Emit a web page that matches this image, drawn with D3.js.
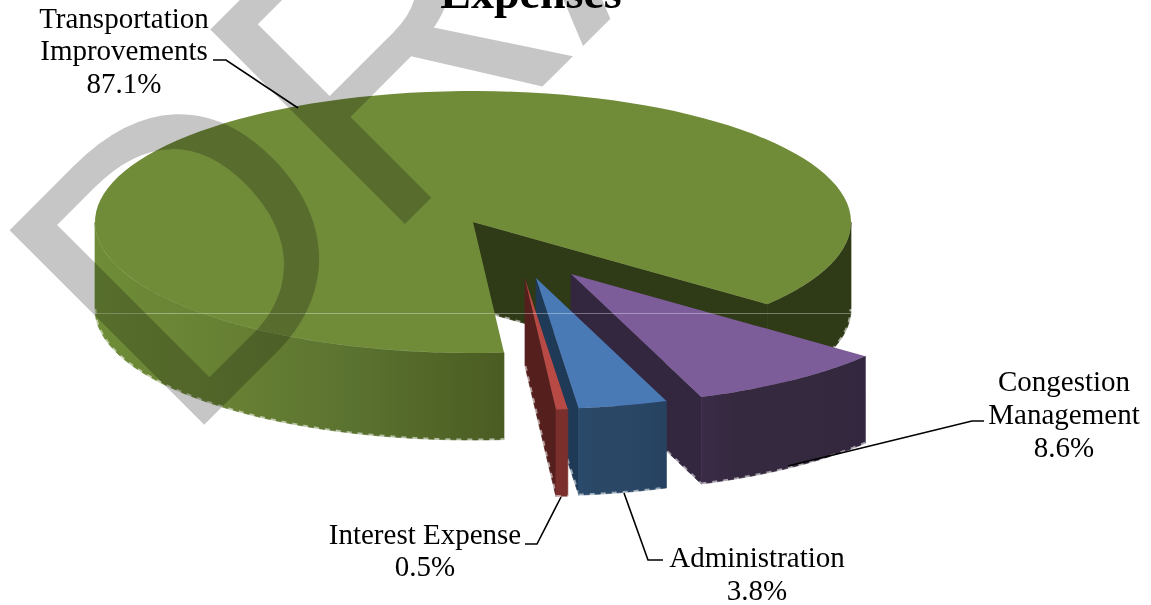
<!DOCTYPE html>
<html>
<head>
<meta charset="utf-8">
<script src="https://cdn.jsdelivr.net/npm/d3@7/dist/d3.min.js"></script>
<style>
  html, body { margin: 0; padding: 0; background: #fff; overflow: hidden; }
  svg { display: block; }
  text { font-family: "Liberation Serif", "Times New Roman", serif; fill: #000; }
</style>
</head>
<body>
<svg id="chart" width="1151" height="605"></svg>
<script>
// Expense shares, clockwise from the front of the pie
const categories = ["Transportation Improvements", "Congestion Management", "Administration", "Interest Expense"];
const shares = [87.1, 8.6, 3.8, 0.5];
const shareLabels = ["87.1%", "8.6%", "3.8%", "0.5%"];
const titleText = "Expenses";
const stampText = "DRAFT";

// Colours per slice: top face, cut wall, outer rim stops (left to right)
const topColors = ["#718c39", "#7c5c99", "#4a7ab5", "#b84a45"];
const wallColors = ["#2f3a16", "#33273f", "#1f3a56", "#551f1d"];
const rimStops = [
  ["#6f8d38", "#667f33", "#5b7330", "#4b5c22"],
  ["#3b2b48", "#35293f", "#35293f", "#33273f"],
  ["#2a4a6c", "#2a4766", "#2a4766", "#264260"],
  ["#7a2f2d", "#7a2f2d", "#7a2f2d", "#7a2f2d"]
];

// Pie geometry: tilted disc seen from above
const cx = 473, cy = 222, rx = 378, ry = 131, depth = 87;
const firstAngle = 175.3 * Math.PI / 180;
const pullX = [0, 98, 63, 52];
const pullY = [0, 52, 56, 57];

const svg = d3.select("#chart");
const defs = svg.append("defs");

const slices = d3.pie().sort(null).value(d => d)
  .startAngle(firstAngle).endAngle(firstAngle + 2 * Math.PI)(shares);

const xPos = d3.scaleLinear().domain([-1, 1]).range([-rx, rx]);
const yPos = d3.scaleLinear().domain([-1, 1]).range([-ry, ry]);
const toXY = (a, i, h = 0) => [
  cx + pullX[i] + xPos(Math.sin(a)),
  cy + pullY[i] + yPos(-Math.cos(a)) + h
];
const centre = (i, h = 0) => [cx + pullX[i], cy + pullY[i] + h];
const pathOf = d3.line();
const sweep = (a0, a1) => d3.range(0, 121).map(k => a0 + (a1 - a0) * k / 120);
const PI = Math.PI;

// Rim spans that face the viewer, in the slice's own angular range
function frontSpans(s) {
  const spans = [];
  for (const [lo, hi] of [[PI / 2, 3 * PI / 2], [5 * PI / 2, 7 * PI / 2]]) {
    const a0 = Math.max(s.startAngle, lo), a1 = Math.min(s.endAngle, hi);
    if (a1 > a0) spans.push([a0, a1]);
  }
  return spans;
}

slices.forEach((s, i) => {
  const grad = defs.append("linearGradient")
    .attr("id", "rim" + i).attr("gradientUnits", "userSpaceOnUse")
    .attr("x1", toXY(3 * PI / 2, 0)[0]).attr("x2", toXY(s.startAngle, 0)[0])
    .attr("y1", 0).attr("y2", 0);
  if (i > 0) {
    grad.attr("x1", toXY(s.endAngle, i)[0]).attr("x2", toXY(s.startAngle, i)[0]);
  }
  const offs = i === 0 ? [0, 0.36, 0.62, 1] : [0, 0.2, 0.6, 1];
  rimStops[i].forEach((c, k) => grad.append("stop").attr("offset", offs[k]).attr("stop-color", c));
});

// Stepped pale fringe along a lower edge
function fringe(g, pts) {
  g.append("path")
    .attr("d", pathOf(pts))
    .attr("fill", "none")
    .attr("stroke", "#fff")
    .attr("stroke-opacity", 0.55)
    .attr("stroke-width", 3)
    .attr("stroke-dasharray", "5 6");
}

// Draw back to front: main body, then the pulled-out slices
slices.forEach((s, i) => {
  const g = svg.append("g").attr("class", "slice").attr("data-name", categories[i]);

  // Cut wall on the clockwise end of the slice
  g.append("path")
    .attr("d", pathOf([centre(i), toXY(s.endAngle, i), toXY(s.endAngle, i, depth), centre(i, depth)]) + "Z")
    .attr("fill", wallColors[i])
    .attr("stroke", wallColors[i]).attr("stroke-width", 0.7);
  fringe(g, [centre(i, depth), toXY(s.endAngle, i, depth)]);

  // Outer rim
  frontSpans(s).forEach(([a0, a1]) => {
    const upper = sweep(a0, a1).map(a => toXY(a, i));
    const lower = sweep(a0, a1).map(a => toXY(a, i, depth)).reverse();
    const rightSide = i === 0 && a0 > 2 * PI;
    const paint = rightSide ? wallColors[0] : `url(#rim${i})`;
    g.append("path")
      .attr("d", pathOf(upper.concat(lower)) + "Z")
      .attr("fill", paint)
      .attr("stroke", paint).attr("stroke-width", 0.7);
    fringe(g, lower);
  });

  // Top face
  g.append("path")
    .attr("d", pathOf([centre(i)].concat(sweep(s.startAngle, s.endAngle).map(a => toXY(a, i)))) + "Z")
    .attr("fill", topColors[i]);
});

// Thin pale seam across the body
svg.append("line")
  .attr("x1", cx - rx).attr("x2", cx + rx).attr("y1", 313.5).attr("y2", 313.5)
  .attr("stroke", "#fff").attr("stroke-opacity", 0.35).attr("stroke-width", 1);

// Leader lines
const leaders = [
  [[213, 60], [226, 60], [298, 108]],
  [[984, 421], [972, 421], [788, 466]],
  [[663, 560], [648, 560], [624, 493]],
  [[525, 544], [537, 544], [561, 497]]
];
leaders.forEach(pts => svg.append("path")
  .attr("d", pathOf(pts)).attr("fill", "none")
  .attr("stroke", "#000").attr("stroke-width", 1.6));

// Serif type for title and labels
function label(lines, x, baselines, size, weight) {
  lines.forEach((t, k) => {
    svg.append("text")
      .attr("x", x).attr("y", baselines[k])
      .attr("text-anchor", "middle")
      .attr("font-size", size)
      .attr("font-weight", weight || "normal")
      .text(t);
  });
}
label(["Transportation", "Improvements", shareLabels[0]], 124, [28, 60, 93], 29);
label(["Congestion", "Management", shareLabels[1]], 1064, [391, 424, 457], 29);
label(["Administration", shareLabels[2]], 757, [567, 600], 29);
label(["Interest Expense", shareLabels[3]], 425, [544, 576], 29);
label([titleText], 531, [8], 46, "bold");

// Diagonal stamp across the whole sheet
svg.append("text")
  .attr("transform", "translate(181,448) rotate(-45)")
  .attr("font-size", 400)
  .attr("letter-spacing", -5)
  .style("font-family", '"Liberation Sans", Arial, sans-serif')
  .style("fill", "#c6c6c6")
  .style("mix-blend-mode", "multiply")
  .text(stampText);
</script>
</body>
</html>
